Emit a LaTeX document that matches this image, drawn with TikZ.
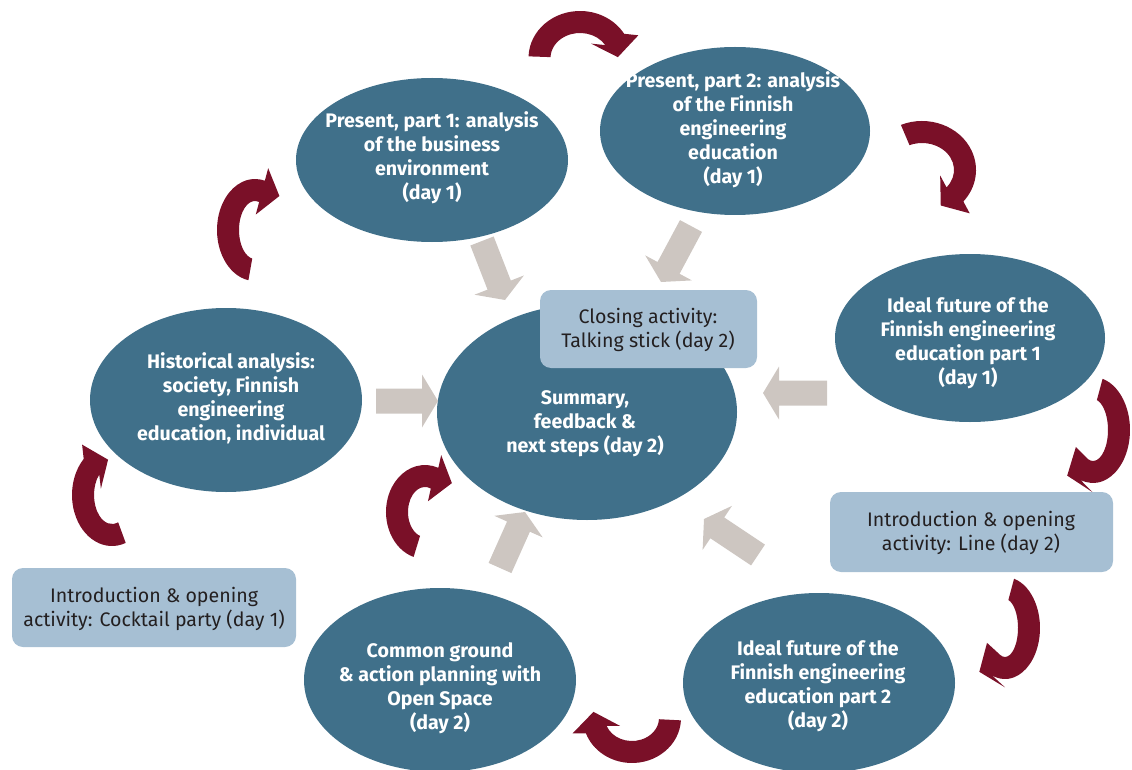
\documentclass[tikz,border=0pt]{standalone}
\usepackage{fontspec}
\setmainfont{Fira Sans}
\usetikzlibrary{calc}

\definecolor{stageteal}{RGB}{64,112,138}
\definecolor{noteblue}{RGB}{166,191,211}
\definecolor{flowgray}{RGB}{205,198,193}
\definecolor{cyclered}{RGB}{122,16,40}
\definecolor{notetext}{RGB}{35,31,32}

% ring-segment arrow: centre x, centre y, x radius, y radius,
% start angle, end angle, direction of the tip
\newcommand\cyclearrow[7]{%
  \pgfmathsetmacro\cxo{#3+11}\pgfmathsetmacro\cyo{#4+11}%
  \pgfmathsetmacro\cxi{#3-11}\pgfmathsetmacro\cyi{#4-11}%
  \pgfmathsetmacro\wo{#7-90}\pgfmathsetmacro\wi{#7+90}%
  \coordinate (rc) at (#1,#2);
  \coordinate (rm) at ($(rc)+(#6:#3 and #4)$);
  \fill[cyclered] ($(rc)+(#5:\cxo\space and \cyo)$)
    arc[start angle=#5,end angle=#6,x radius=\cxo,y radius=\cyo]
    -- ($(rm)+(\wo:24)$) -- ($(rm)+(#7:18)$) -- ($(rm)+(\wi:24)$)
    -- ($(rc)+(#6:\cxi\space and \cyi)$)
    arc[start angle=#6,end angle=#5,x radius=\cxi,y radius=\cyi]
    -- cycle;
}

% straight block arrow from a tail point to a tip point
\newcommand\flowarrow[2]{%
  \coordinate (ft) at (#1);
  \coordinate (fp) at (#2);
  \coordinate (fb) at ($(fp)!16pt!(ft)$);
  \fill[flowgray]
    ($(ft)!12.5pt!90:(fp)$) -- ($(fb)!12.5pt!90:(fp)$) -- ($(fb)!26.5pt!90:(fp)$)
    -- (fp)
    -- ($(fb)!26.5pt!-90:(fp)$) -- ($(fb)!12.5pt!-90:(fp)$) -- ($(ft)!12.5pt!-90:(fp)$)
    -- cycle;
}

\tikzset{
  stagelabel/.style={text=white, align=center,
    font=\fontsize{19.6}{24}\selectfont\bfseries},
  notelabel/.style={text=notetext, align=center,
    font=\fontsize{19.6}{24}\selectfont},
  stagefill/.style={fill=stageteal},
  notefill/.style={fill=noteblue, rounded corners=11pt},
}

\begin{document}
\begin{tikzpicture}[x=1pt,y=-1pt]
\useasboundingbox (0,0) rectangle (1132,770);

% stages
\fill[stagefill] (432,160) ellipse [x radius=136, y radius=82];
\fill[stagefill] (735,131) ellipse [x radius=135, y radius=84];
\fill[stagefill] (970,338) ellipse [x radius=135, y radius=84];
\fill[stagefill] (226,400) ellipse [x radius=136, y radius=92];
\fill[stagefill] (587,412) ellipse [x radius=150, y radius=108];
\fill[stagefill] (440,680) ellipse [x radius=136, y radius=92];
\fill[stagefill] (819,683) ellipse [x radius=136, y radius=90];

\node[stagelabel] (p1) at (432,158)
  {Present, part 1: analysis\\of the business\\environment\\(day 1)};
\node[stagelabel] (p2) at (733,130)
  {Present, part 2: analysis\\of the Finnish\\engineering\\education\\(day 1)};
\node[stagelabel] (f1) at (968,343)
  {Ideal future of the\\Finnish engineering\\education part 1\\(day 1)};
\node[stagelabel] (hi) at (231,398)
  {Historical analysis:\\society, Finnish\\engineering\\education, individual};
\node[stagelabel] (su) at (585,424)
  {Summary,\\feedback \&\\next steps (day 2)};
\node[stagelabel] (cg) at (440,688)
  {Common ground\\\& action planning with\\Open Space\\(day 2)};
\node[stagelabel] (f2) at (818,686)
  {Ideal future of the\\Finnish engineering\\education part 2\\(day 2)};

% activity notes
\fill[notefill] (540,290) rectangle (757,368);
\fill[notefill] (830,492) rectangle (1113,572);
\fill[notefill] (12,568) rectangle (296,647);
\node[notelabel] (cl) at (648,330)
  {Closing activity:\\Talking stick (day 2)};
\node[notelabel] (li) at (971,533)
  {Introduction \& opening\\activity: Line (day 2)};
\node[notelabel] (ct) at (154,609)
  {Introduction \& opening\\activity: Cocktail party (day 1)};

% arrows into the summary
\flowarrow{482,241}{505,300}
\flowarrow{691,226}{661,282}
\flowarrow{376,401}{438,401}
\flowarrow{827,393}{763,393}
\flowarrow{500,568}{525,512}
\flowarrow{758,555}{704,519}

% cycle arrows
\cyclearrow{580}{58}{40.5}{36}{182}{329}{80}
\cyclearrow{922}{170}{43}{38}{247}{400}{142}
\cyclearrow{1093}{430}{26}{42}{285}{470}{160}
\cyclearrow{1005}{628}{24}{40}{285}{472}{158}
\cyclearrow{632}{718}{38}{34}{3}{160}{261}
\cyclearrow{425}{512}{28}{36}{107}{290}{16}
\cyclearrow{112}{495}{29}{40}{70}{225}{337}
\cyclearrow{255}{230}{27}{40}{100}{285}{15}
\end{tikzpicture}
\end{document}
